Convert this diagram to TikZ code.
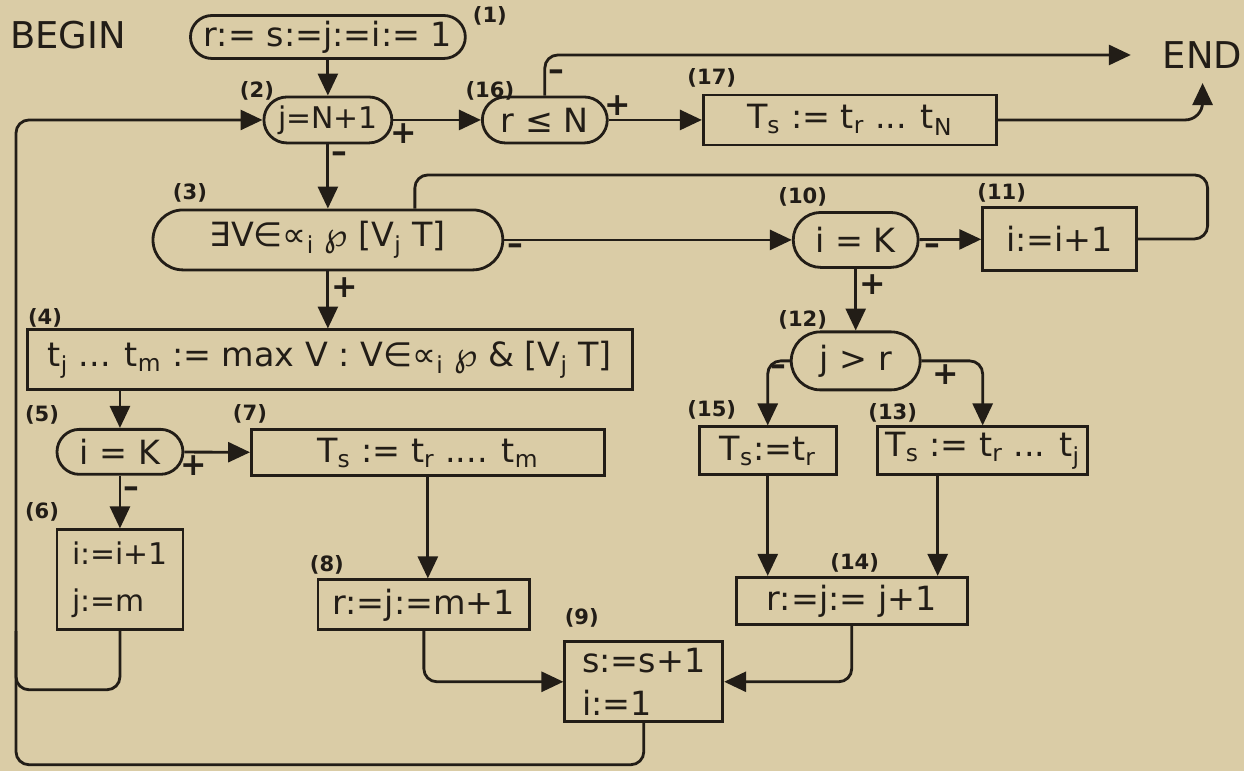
\documentclass[tikz,border=0pt]{standalone}
\usepackage{fontspec}
\setmainfont{DejaVu Sans}
\usetikzlibrary{arrows.meta,positioning}
\definecolor{paper}{HTML}{DACCA6}
\definecolor{ink}{HTML}{221D17}
\tikzset{
  >={Triangle[length=4.4mm,width=4mm]},
  every node/.style={text=ink,font=\fontsize{19}{22}\selectfont},
  stepbox/.style={draw=ink,line width=1.6pt,align=center,inner sep=2pt},
  pillbox/.style={stepbox,rounded corners=4.5mm,minimum height=9mm},
  tag/.style={font=\fontsize{12}{14}\selectfont\bfseries,inner sep=1pt},
  sign/.style={font=\fontsize{18}{19}\selectfont\bfseries,inner sep=1.5pt},
  flow/.style={->,line width=1.6pt,draw=ink,rounded corners=2.6mm},
  line/.style={line width=1.6pt,draw=ink,rounded corners=2.6mm},
  bigword/.style={font=\fontsize{21}{24}\selectfont,inner sep=1pt},
  smallword/.style={font=\fontsize{17}{21}\selectfont},
}
\newcommand{\sub}[1]{\textsubscript{#1}}

\begin{document}
\begin{tikzpicture}[x=0.02cm,y=-0.02cm]
\fill[paper] (0,0) rectangle (1244,771);

% --- top row: start, loop test, end
\node[bigword] (begin) at (68,35) {BEGIN};
\node[pillbox,minimum width=55mm,minimum height=8.6mm,rounded corners=4.3mm] (n1) at (328,37) {r:= s:=j:=i:= 1};
\node[pillbox,smallword,minimum width=25.6mm,minimum height=9.2mm,rounded corners=4.6mm] (n2) at (328,120) {j=N+1};
\node[pillbox,minimum width=25mm,minimum height=9.2mm,rounded corners=4.6mm] (n16) at (545,120) {r ≤ N};
\node[stepbox,minimum width=58.6mm,minimum height=10mm] (n17) at (850,120) {T\sub{s} := t\sub{r} ... t\sub{N}};
\node[bigword] (endn) at (1203,55) {END};

% --- search for V
\node[pillbox,minimum width=70mm,minimum height=12mm,rounded corners=6mm] (n3) at (328,240) {∃V∈∝\sub{i} ℘ [V\sub{j} T]};
\node[pillbox,minimum width=25mm,minimum height=11mm,rounded corners=5.5mm] (n10) at (856,240) {i = K};
\node[stepbox,minimum width=30.8mm,minimum height=12.6mm] (n11) at (1060,239) {i:=i+1};
\node[stepbox,minimum width=121mm,minimum height=12mm] (n4) at (330,360) {t\sub{j} ... t\sub{m} := max V : V∈∝\sub{i} ℘ \& [V\sub{j} T]};
\node[pillbox,minimum width=25.8mm,minimum height=11.6mm,rounded corners=5.8mm] (n12) at (856,361) {j > r};

% --- left branch
\node[pillbox,minimum width=25.2mm,minimum height=9mm] (n5) at (120,452) {i = K};
\node[stepbox,minimum width=70.6mm,minimum height=9.2mm] (n7) at (428,453) {T\sub{s} := t\sub{r} .... t\sub{m}};
\node[stepbox,smallword,minimum width=25.2mm,minimum height=20mm,align=left] (n6) at (120,580) {i:=i+1\\[2mm]j:=m};
\node[stepbox,minimum width=42.4mm,minimum height=10mm] (n8) at (424,605) {r:=j:=m+1};

% --- right branch
\node[stepbox,minimum width=27.4mm,minimum height=9.6mm] (n15) at (768,451) {T\sub{s}:=t\sub{r}};
\node[stepbox,minimum width=42mm,minimum height=9.6mm] (n13) at (983,451) {T\sub{s} := t\sub{r} ... t\sub{j}};
\node[stepbox,minimum width=46.2mm,minimum height=9.4mm] (n14) at (852,601) {r:=j:= j+1};
\node[stepbox,minimum width=31.6mm,minimum height=16mm,align=left] (n9) at (644,682) {s:=s+1\\[1mm]i:=1};

% --- step numbers
\node[tag] (t1) at (490,16) {(1)};
\node[tag] (t2) at (257,91) {(2)};
\node[tag] (t16) at (490,91) {(16)};
\node[tag] (t17) at (712,78) {(17)};
\node[tag] (t3) at (190,193) {(3)};
\node[tag] (t10) at (803,197) {(10)};
\node[tag] (t11) at (1002,193) {(11)};
\node[tag] (t4) at (45,318) {(4)};
\node[tag] (t12) at (803,320) {(12)};
\node[tag] (t5) at (42,415) {(5)};
\node[tag] (t7) at (250,414) {(7)};
\node[tag] (t15) at (712,410) {(15)};
\node[tag] (t13) at (893,413) {(13)};
\node[tag] (t6) at (42,512) {(6)};
\node[tag] (t8) at (327,565) {(8)};
\node[tag] (t14) at (855,563) {(14)};
\node[tag] (t9) at (582,618) {(9)};

\coordinate (ret11) at (1208,175);
\coordinate (ret3) at (415,175);
\coordinate (back) at (16,765);
\coordinate (join) at (16,690);
\coordinate (c13) at ([xshift=-9mm]n13.south);

% --- connectors
\draw[flow] (n1) -- (n2);
\draw[flow] (n2) -- node[sign,pos=0.12,below]{+} (n16);
\draw[flow] (n2) -- node[sign,pos=0.2,right]{\textendash} (n3);
\draw[flow,shorten >=6mm] (n16.north) |- node[sign,pos=0.25,right]{\textendash} (endn.west);
\draw[flow] (n16) -- node[sign,pos=0.1,above]{+} (n17);
\draw[flow,rounded corners=3.5mm,shorten >=2.5mm] (n17) -| (endn.south);
\draw[flow] (n3) -- node[sign,pos=0.04,below]{\textendash} (n10);
\draw[flow] (n10) -- node[sign,pos=0.2,below]{\textendash} (n11);
\draw[line] (n11.east) -| (ret11) -- (ret3) -- (ret3 |- n3.north);
\draw[flow] (n10) -- node[sign,pos=0.25,right]{+} (n12);
\draw[flow] (n12.west) -| node[sign,pos=0.25,below]{\textendash} (n15.north);
\draw[flow] (n12.east) -| node[sign,pos=0.2,below]{+} (n13.north);
\draw[flow] (n15) -- (n15 |- n14.north);
\draw[flow] (c13) -- (c13 |- n14.north);
\draw[flow] (n14.south) |- (n9.east);
\draw[flow] (n3.south) -- node[sign,pos=0.28,right]{+} (n3.south |- n4.north);
\draw[flow] (n5 |- n4.south) -- (n5);
\draw[flow] (n5) -- node[sign,pos=0.15,below]{+} (n7);
\draw[flow] (n5) -- node[sign,pos=0.32,right]{\textendash} (n6);
\draw[flow] (n7.south) -- (n7.south |- n8.north);
\draw[flow] (n8.south) |- (n9.west);
\draw[flow] (n9.south) |- (back) |- (n2.west);
\draw[line] (n6.south) |- (join) -- (join |- n6.south);

\end{tikzpicture}
\end{document}
